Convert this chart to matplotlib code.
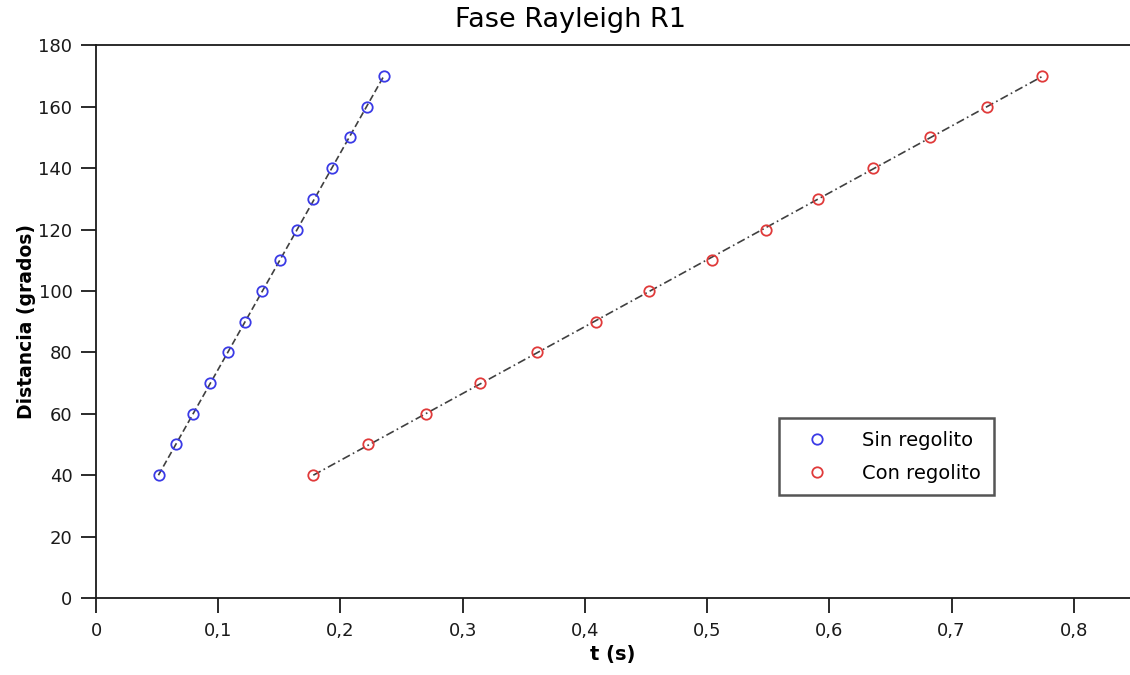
import numpy as np
import matplotlib.pyplot as plt
from matplotlib.ticker import FuncFormatter

distancia = [40, 50, 60, 70, 80, 90, 100, 110, 120, 130, 140, 150, 160, 170]
t_sin = [0.0515, 0.0654, 0.0793, 0.0933, 0.108, 0.1219, 0.1358, 0.1505,
         0.1644, 0.1775, 0.193, 0.2078, 0.2217, 0.2356]
t_con = [0.1775, 0.2225, 0.270, 0.314, 0.3607, 0.409, 0.4523, 0.5039,
         0.548, 0.5906, 0.6356, 0.6822, 0.7288, 0.7738]

plt.rcParams['font.family'] = 'DejaVu Sans'

fig = plt.figure(figsize=(11.3, 6.75), dpi=100)
ax = fig.add_axes([0.085, 0.114, 0.915, 0.819])

# ajustes lineales
for t, ls in [(t_sin, (0, (4, 2))), (t_con, (0, (5, 2, 1, 2)))]:
    p = np.polyfit(distancia, t, 1)
    d = np.array([distancia[0], distancia[-1]])
    ax.plot(np.polyval(p, d), d, color='#404040', linestyle=ls, linewidth=1.2)

ax.plot(t_sin, distancia, 'o', mfc='none', mec='#3a3ae6', mew=1.3, ms=7.5,
        label='Sin regolito')
ax.plot(t_con, distancia, 'o', mfc='none', mec='#e03a3a', mew=1.3, ms=7.5,
        label='Con regolito')

ax.set_xlim(0, 0.846)
ax.set_ylim(0, 180)
ax.set_xticks(np.arange(0, 0.81, 0.1))
ax.set_yticks(np.arange(0, 181, 20))
ax.xaxis.set_major_formatter(FuncFormatter(lambda v, pos: ('%g' % round(v, 2)).replace('.', ',')))
ax.tick_params(direction='out', length=11, width=1.3, labelsize=13, colors='#1a1a1a', pad=6)
ax.spines['right'].set_visible(False)
for s in ['left', 'bottom', 'top']:
    ax.spines[s].set_linewidth(1.3)
    ax.spines[s].set_color('#1a1a1a')

fig.text(0.505, 0.97, 'Fase Rayleigh R1', fontsize=19.5, ha='center', va='center')
ax.set_xlabel('t (s)', fontsize=14, fontweight='bold', labelpad=4)
ax.set_ylabel('Distancia (grados)', fontsize=13.5, fontweight='bold', labelpad=2)

leg = ax.legend(loc='upper left', bbox_to_anchor=(0.661, 0.325), fontsize=14,
                fancybox=False, framealpha=1, edgecolor='#555555',
                borderpad=0.65, handletextpad=1.0, labelspacing=0.7,
                borderaxespad=0, handlelength=2.6)
leg.get_frame().set_linewidth(1.8)

fig.savefig('out.png', dpi=100)
